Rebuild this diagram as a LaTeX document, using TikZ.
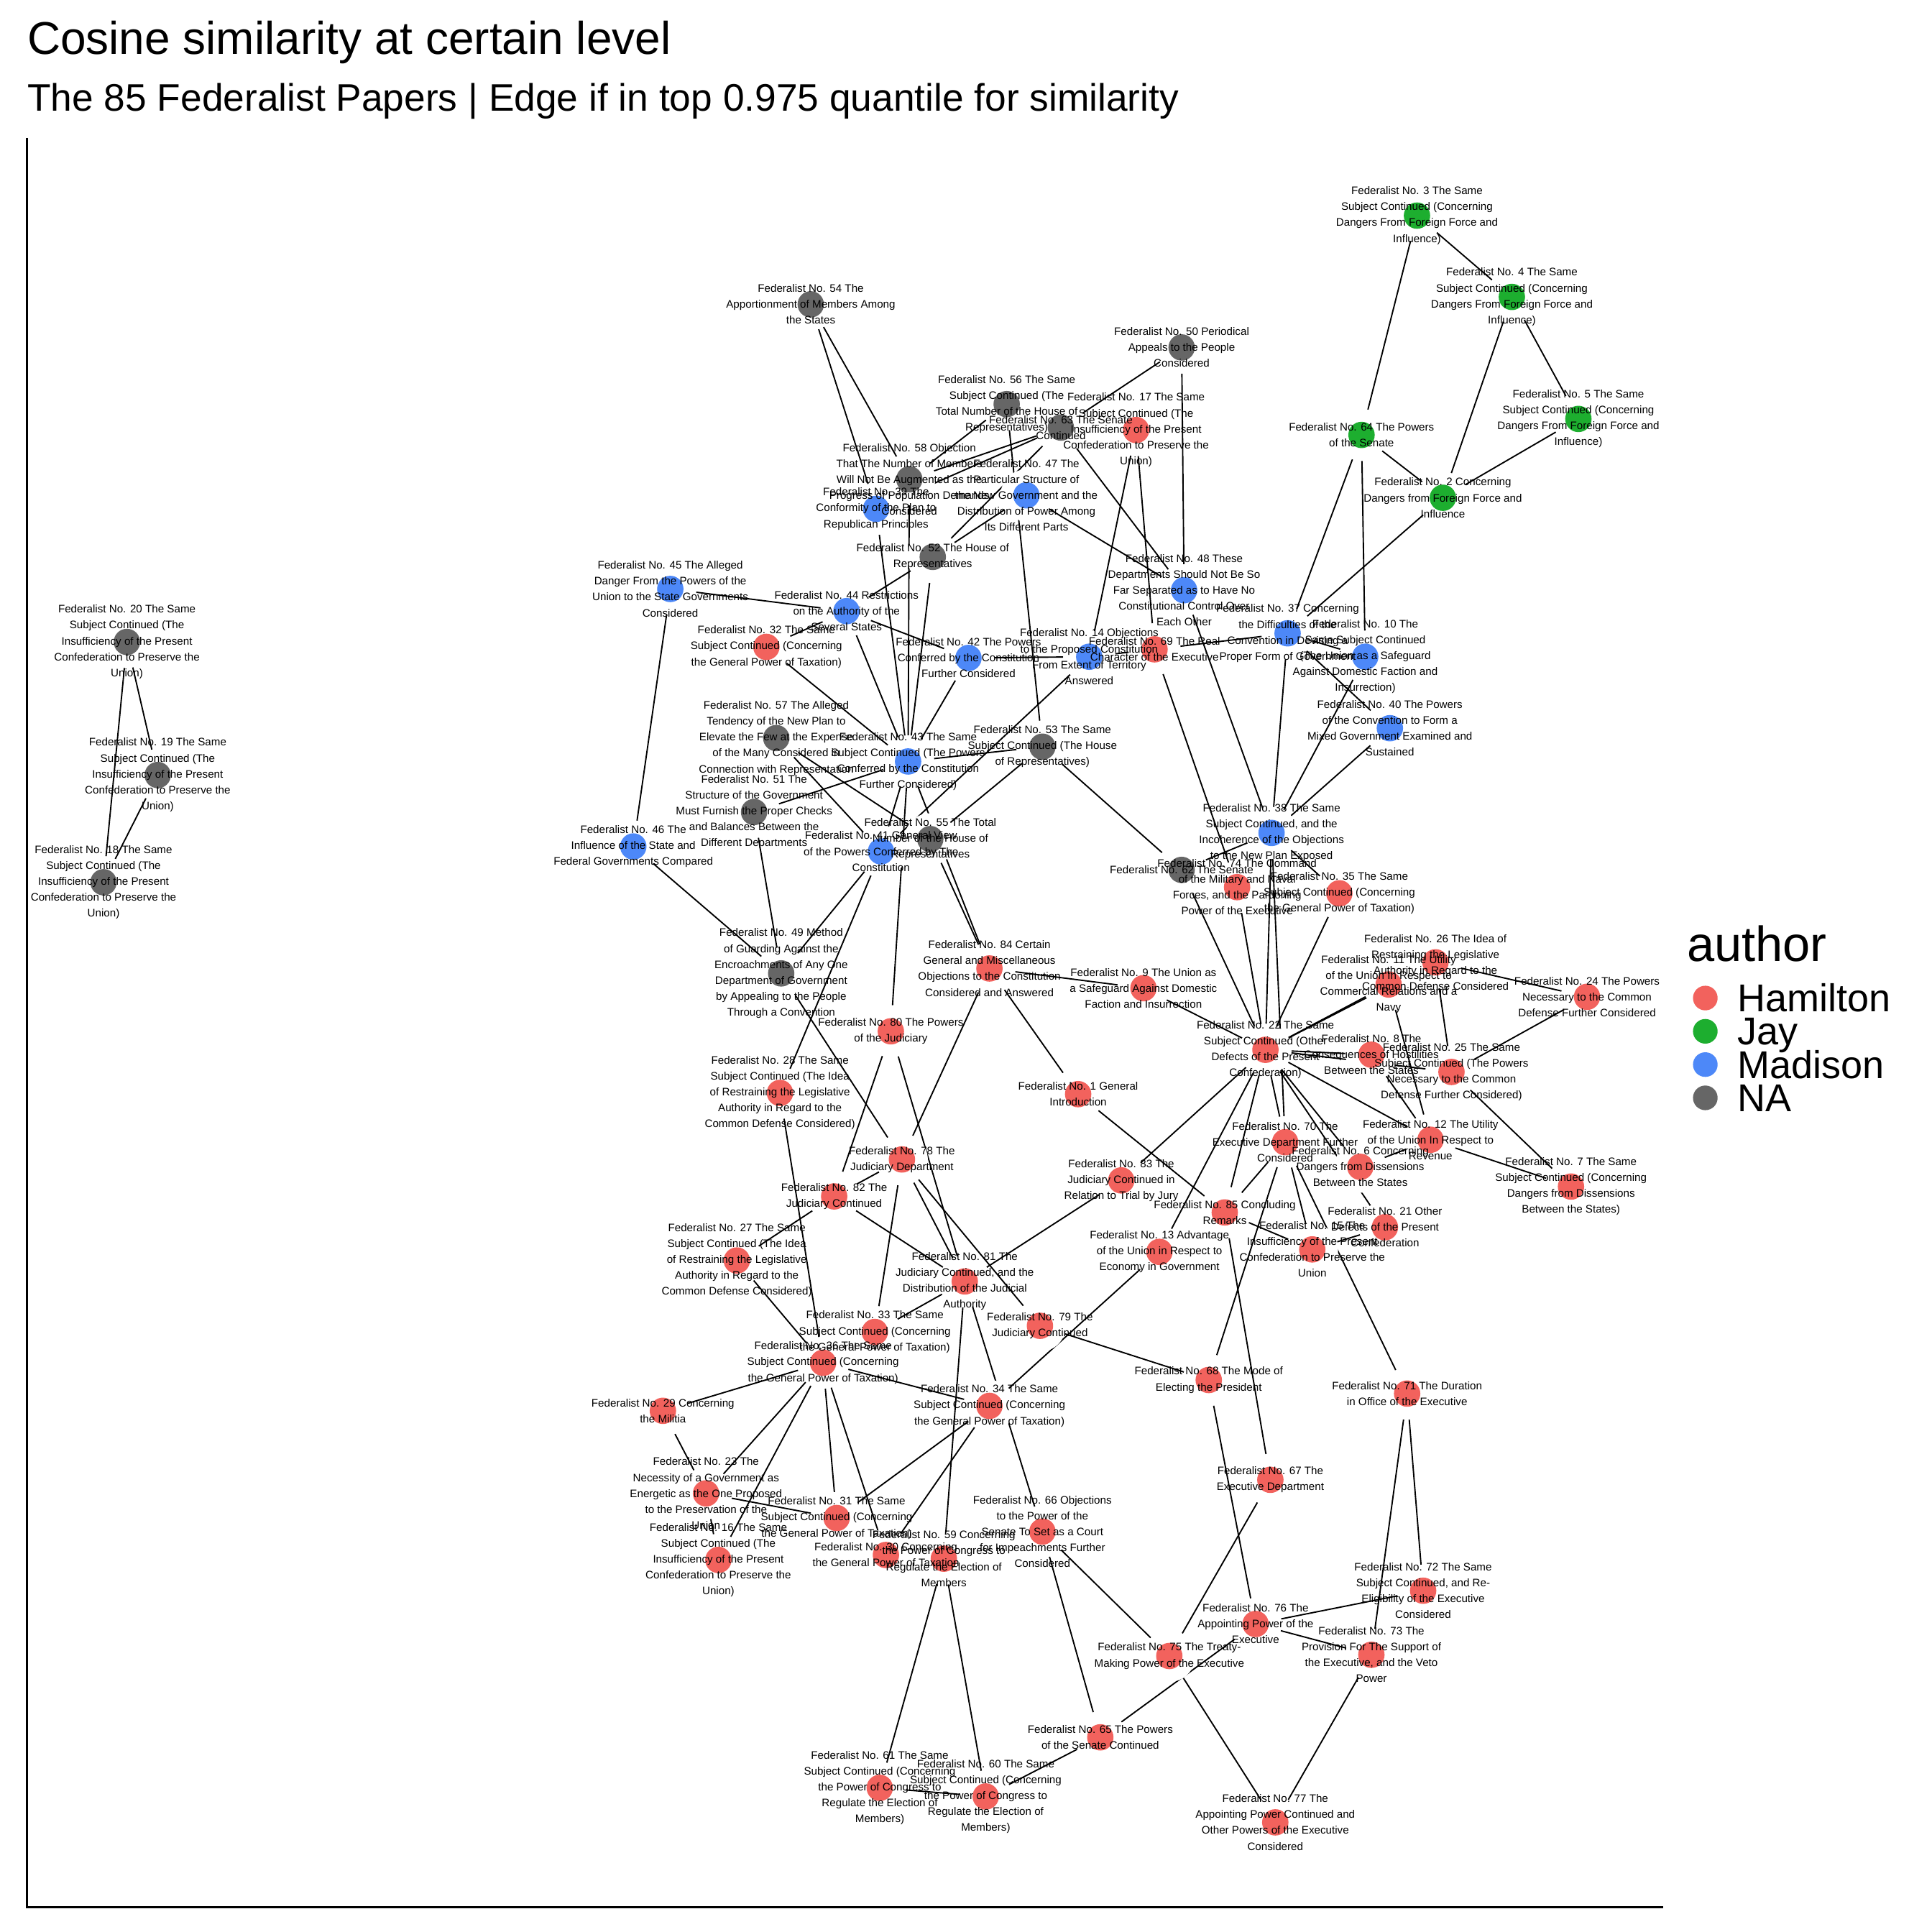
\documentclass[tikz,border=0pt]{standalone}
\usepackage{fontspec}
\setmainfont{Liberation Sans}
\pgfdeclarelayer{bg}
\pgfdeclarelayer{edges}
\pgfsetlayers{bg,edges,main}
\definecolor{ham}{HTML}{F2625D}
\definecolor{jay}{HTML}{1DAE2F}
\definecolor{mad}{HTML}{4D88F8}
\definecolor{na}{HTML}{666666}
\tikzset{
  halo/.style={circle, fill=white, inner sep=0pt, minimum size=42pt},
  lab/.style={font=\fontsize{8.85}{12.9}\selectfont, align=center, inner sep=0pt},
  edge/.style={line width=1.1pt, black},
  axisline/.style={line width=1.8pt, black},
}
\newcommand\paperlist{%
\pp{1}{875}{888}{ham}{Federalist No. 1 General\\Introduction}%
\pp{2}{1171}{404}{jay}{Federalist No. 2 Concerning\\Dangers from Foreign Force and\\Influence}%
\pp{3}{1150}{175}{jay}{Federalist No. 3 The Same\\Subject Continued (Concerning\\Dangers From Foreign Force and\\Influence)}%
\pp{4}{1227}{241}{jay}{Federalist No. 4 The Same\\Subject Continued (Concerning\\Dangers From Foreign Force and\\Influence)}%
\pp{5}{1281}{340}{jay}{Federalist No. 5 The Same\\Subject Continued (Concerning\\Dangers From Foreign Force and\\Influence)}%
\pp{6}{1104}{947}{ham}{Federalist No. 6 Concerning\\Dangers from Dissensions\\Between the States}%
\pp{7}{1275}{963}{ham}{Federalist No. 7 The Same\\Subject Continued (Concerning\\Dangers from Dissensions\\Between the States)}%
\pp{8}{1113}{856}{ham}{Federalist No. 8 The\\Consequences of Hostilities\\Between the States}%
\pp{9}{928}{802}{ham}{Federalist No. 9 The Union as\\a Safeguard Against Domestic\\Faction and Insurrection}%
\pp{10}{1108}{533}{mad}{Federalist No. 10 The\\Same Subject Continued\\(The Union as a Safeguard\\Against Domestic Faction and\\Insurrection)}%
\pp{11}{1127}{799}{ham}{Federalist No. 11 The Utility\\of the Union In Respect to\\Commercial Relations and a\\Navy}%
\pp{12}{1161}{925}{ham}{Federalist No. 12 The Utility\\of the Union In Respect to\\Revenue}%
\pp{13}{941}{1016}{ham}{Federalist No. 13 Advantage\\of the Union in Respect to\\Economy in Government}%
\pp{14}{884}{533}{mad}{Federalist No. 14 Objections\\to the Proposed Constitution\\From Extent of Territory\\Answered}%
\pp{15}{1065}{1014}{ham}{Federalist No. 15 The\\Insufficiency of the Present\\Confederation to Preserve the\\Union}%
\pp{16}{583}{1266}{ham}{Federalist No. 16 The Same\\Subject Continued (The\\Insufficiency of the Present\\Confederation to Preserve the\\Union)}%
\pp{17}{922}{349}{ham}{Federalist No. 17 The Same\\Subject Continued (The\\Insufficiency of the Present\\Confederation to Preserve the\\Union)}%
\pp{18}{84}{716}{na}{Federalist No. 18 The Same\\Subject Continued (The\\Insufficiency of the Present\\Confederation to Preserve the\\Union)}%
\pp{19}{128}{629}{na}{Federalist No. 19 The Same\\Subject Continued (The\\Insufficiency of the Present\\Confederation to Preserve the\\Union)}%
\pp{20}{103}{521}{na}{Federalist No. 20 The Same\\Subject Continued (The\\Insufficiency of the Present\\Confederation to Preserve the\\Union)}%
\pp{21}{1124}{996}{ham}{Federalist No. 21 Other\\Defects of the Present\\Confederation}%
\pp{22}{1027}{852}{ham}{Federalist No. 22 The Same\\Subject Continued (Other\\Defects of the Present\\Confederation)}%
\pp{23}{573}{1212}{ham}{Federalist No. 23 The\\Necessity of a Government as\\Energetic as the One Proposed\\to the Preservation of the\\Union}%
\pp{24}{1288}{809}{ham}{Federalist No. 24 The Powers\\Necessary to the Common\\Defense Further Considered}%
\pp{25}{1178}{870}{ham}{Federalist No. 25 The Same\\Subject Continued (The Powers\\Necessary to the Common\\Defense Further Considered)}%
\pp{26}{1165}{781}{ham}{Federalist No. 26 The Idea of\\Restraining the Legislative\\Authority in Regard to the\\Common Defense Considered}%
\pp{27}{598}{1023}{ham}{Federalist No. 27 The Same\\Subject Continued (The Idea\\of Restraining the Legislative\\Authority in Regard to the\\Common Defense Considered)}%
\pp{28}{633}{887}{ham}{Federalist No. 28 The Same\\Subject Continued (The Idea\\of Restraining the Legislative\\Authority in Regard to the\\Common Defense Considered)}%
\pp{29}{538}{1145}{ham}{Federalist No. 29 Concerning\\the Militia}%
\pp{30}{719}{1262}{ham}{Federalist No. 30 Concerning\\the General Power of Taxation}%
\pp{31}{679}{1232}{ham}{Federalist No. 31 The Same\\Subject Continued (Concerning\\the General Power of Taxation)}%
\pp{32}{622}{525}{ham}{Federalist No. 32 The Same\\Subject Continued (Concerning\\the General Power of Taxation)}%
\pp{33}{710}{1081}{ham}{Federalist No. 33 The Same\\Subject Continued (Concerning\\the General Power of Taxation)}%
\pp{34}{803}{1141}{ham}{Federalist No. 34 The Same\\Subject Continued (Concerning\\the General Power of Taxation)}%
\pp{35}{1087}{725}{ham}{Federalist No. 35 The Same\\Subject Continued (Concerning\\the General Power of Taxation)}%
\pp{36}{668}{1106}{ham}{Federalist No. 36 The Same\\Subject Continued (Concerning\\the General Power of Taxation)}%
\pp{37}{1045}{514}{mad}{Federalist No. 37 Concerning\\the Difficulties of the\\Convention in Devising a\\Proper Form of Government}%
\pp{38}{1032}{676}{mad}{Federalist No. 38 The Same\\Subject Continued, and the\\Incoherence of the Objections\\to the New Plan Exposed}%
\pp{39}{711}{413}{mad}{Federalist No. 39 The\\Conformity of the Plan to\\Republican Principles}%
\pp{40}{1128}{591}{mad}{Federalist No. 40 The Powers\\of the Convention to Form a\\Mixed Government Examined and\\Sustained}%
\pp{41}{715}{691}{mad}{Federalist No. 41 General View\\of the Powers Conferred by The\\Constitution}%
\pp{42}{786}{534}{mad}{Federalist No. 42 The Powers\\Conferred by the Constitution\\Further Considered}%
\pp{43}{737}{618}{mad}{Federalist No. 43 The Same\\Subject Continued (The Powers\\Conferred by the Constitution\\Further Considered)}%
\pp{44}{687}{496}{mad}{Federalist No. 44 Restrictions\\on the Authority of the\\Several States}%
\pp{45}{544}{478}{mad}{Federalist No. 45 The Alleged\\Danger From the Powers of the\\Union to the State Governments\\Considered}%
\pp{46}{514}{687}{mad}{Federalist No. 46 The\\Influence of the State and\\Federal Governments Compared}%
\pp{47}{833}{402}{mad}{Federalist No. 47 The\\Particular Structure of\\the New Government and the\\Distribution of Power Among\\Its Different Parts}%
\pp{48}{961}{479}{mad}{Federalist No. 48 These\\Departments Should Not Be So\\Far Separated as to Have No\\Constitutional Control Over\\Each Other}%
\pp{49}{634}{790}{na}{Federalist No. 49 Method\\of Guarding Against the\\Encroachments of Any One\\Department of Government\\by Appealing to the People\\Through a Convention}%
\pp{50}{959}{282}{na}{Federalist No. 50 Periodical\\Appeals to the People\\Considered}%
\pp{51}{612}{659}{na}{Federalist No. 51 The\\Structure of the Government\\Must Furnish the Proper Checks\\and Balances Between the\\Different Departments}%
\pp{52}{757}{452}{na}{Federalist No. 52 The House of\\Representatives}%
\pp{53}{846}{606}{na}{Federalist No. 53 The Same\\Subject Continued (The House\\of Representatives)}%
\pp{54}{658}{247}{na}{Federalist No. 54 The\\Apportionment of Members Among\\the States}%
\pp{55}{755}{681}{na}{Federalist No. 55 The Total\\Number of the House of\\Representatives}%
\pp{56}{817}{328}{na}{Federalist No. 56 The Same\\Subject Continued (The\\Total Number of the House of\\Representatives)}%
\pp{57}{630}{599}{na}{Federalist No. 57 The Alleged\\Tendency of the New Plan to\\Elevate the Few at the Expense\\of the Many Considered in\\Connection with Representation}%
\pp{58}{738}{389}{na}{Federalist No. 58 Objection\\That The Number of Members\\Will Not Be Augmented as the\\Progress of Population Demands\\Considered}%
\pp{59}{766}{1265}{ham}{Federalist No. 59 Concerning\\the Power of Congress to\\Regulate the Election of\\Members}%
\pp{60}{800}{1458}{ham}{Federalist No. 60 The Same\\Subject Continued (Concerning\\the Power of Congress to\\Regulate the Election of\\Members)}%
\pp{61}{714}{1451}{ham}{Federalist No. 61 The Same\\Subject Continued (Concerning\\the Power of Congress to\\Regulate the Election of\\Members)}%
\pp{62}{959}{706}{na}{Federalist No. 62 The Senate}%
\pp{63}{861}{347}{na}{Federalist No. 63 The Senate\\Continued}%
\pp{64}{1105}{353}{jay}{Federalist No. 64 The Powers\\of the Senate}%
\pp{65}{893}{1410}{ham}{Federalist No. 65 The Powers\\of the Senate Continued}%
\pp{66}{846}{1243}{ham}{Federalist No. 66 Objections\\to the Power of the\\Senate To Set as a Court\\for Impeachments Further\\Considered}%
\pp{67}{1031}{1201}{ham}{Federalist No. 67 The\\Executive Department}%
\pp{68}{981}{1120}{ham}{Federalist No. 68 The Mode of\\Electing the President}%
\pp{69}{937}{527}{ham}{Federalist No. 69 The Real\\Character of the Executive}%
\pp{70}{1043}{927}{ham}{Federalist No. 70 The\\Executive Department Further\\Considered}%
\pp{71}{1142}{1131}{ham}{Federalist No. 71 The Duration\\in Office of the Executive}%
\pp{72}{1155}{1291}{ham}{Federalist No. 72 The Same\\Subject Continued, and Re-\\Eligibility of the Executive\\Considered}%
\pp{73}{1113}{1343}{ham}{Federalist No. 73 The\\Provision For The Support of\\the Executive, and the Veto\\Power}%
\pp{74}{1004}{720}{ham}{Federalist No. 74 The Command\\of the Military and Naval\\Forces, and the Pardoning\\Power of the Executive}%
\pp{75}{949}{1344}{ham}{Federalist No. 75 The Treaty-\\Making Power of the Executive}%
\pp{76}{1019}{1318}{ham}{Federalist No. 76 The\\Appointing Power of the\\Executive}%
\pp{77}{1035}{1479}{ham}{Federalist No. 77 The\\Appointing Power Continued and\\Other Powers of the Executive\\Considered}%
\pp{78}{732}{941}{ham}{Federalist No. 78 The\\Judiciary Department}%
\pp{79}{844}{1076}{ham}{Federalist No. 79 The\\Judiciary Continued}%
\pp{80}{723}{837}{ham}{Federalist No. 80 The Powers\\of the Judiciary}%
\pp{81}{783}{1040}{ham}{Federalist No. 81 The\\Judiciary Continued, and the\\Distribution of the Judicial\\Authority}%
\pp{82}{677}{971}{ham}{Federalist No. 82 The\\Judiciary Continued}%
\pp{83}{910}{958}{ham}{Federalist No. 83 The\\Judiciary Continued in\\Relation to Trial by Jury}%
\pp{84}{803}{786}{ham}{Federalist No. 84 Certain\\General and Miscellaneous\\Objections to the Constitution\\Considered and Answered}%
\pp{85}{994}{984}{ham}{Federalist No. 85 Concluding\\Remarks}%
}
\begin{document}
\begin{tikzpicture}[x=1pt,y=-1pt]
\useasboundingbox (0,0) rectangle (1568,1568);
\begin{pgfonlayer}{bg}
\fill[white] (0,0) rectangle (1568,1568);
\end{pgfonlayer}
% title
\node[anchor=base west, inner sep=0pt, font=\fontsize{37.3}{44}\selectfont] (title) at (22,44) {Cosine similarity at certain level};
\node[anchor=base west, inner sep=0pt, font=\fontsize{31.1}{37}\selectfont] (subtitle) at (22,90) {The 85 Federalist Papers | Edge if in top 0.975 quantile for similarity};
% axes
\coordinate (axtop) at (22,112);
\coordinate (axorig) at (22,1548);
\coordinate (axright) at (1350,1548);
\draw[axisline] (axtop) -- (axorig) -- (axright);
% nodes: halos, dots, labels
\def\pp#1#2#3#4#5{\node[halo] (n#1) at (#2,#3) {};}
\paperlist
\def\pp#1#2#3#4#5{\fill[#4] (n#1.center) circle[radius=10.7];}
\paperlist
\def\pp#1#2#3#4#5{\node[lab] (t#1) at (n#1.center) {#5};}
\paperlist
% edges
\begin{pgfonlayer}{edges}
\foreach \a/\b in {3/4,3/64,4/2,4/5,5/2,64/2,64/37,64/10,2/37,
 54/39,54/58,58/56,58/63,58/43,39/63,39/43,50/63,50/48,63/48,63/52,56/53,47/52,47/48,17/14,17/69,52/44,52/43,
 45/44,45/46,46/49,44/32,44/42,44/43,32/43,42/43,42/14,57/41,57/55,51/43,51/49,49/41,49/78,43/41,43/80,43/84,55/84,53/43,53/55,53/62,14/41,14/69,69/37,69/74,48/38,
 37/38,37/40,10/37,10/38,40/38,62/38,38/35,38/22,38/70,35/22,62/22,74/22,26/24,84/9,84/78,84/1,9/22,1/85,83/22,22/13,22/85,22/70,22/11,22/26,22/8,22/25,22/12,22/6,22/21,70/85,70/68,70/15,70/71,85/15,85/67,81/83,13/34,79/68,8/12,11/12,26/25,25/24,25/7,12/7,6/12,21/15,
 41/28,80/82,80/81,78/82,78/33,78/81,78/79,82/27,82/81,28/36,27/36,81/33,36/29,36/34,36/23,36/16,36/31,36/30,29/23,23/31,23/16,31/34,30/34,59/81,59/61,61/60,59/60,81/66,66/75,66/65,60/65,65/76,75/77,75/67,68/76,76/72,76/73,71/73,71/72,73/77,
 20/19,20/18,19/18}
 \draw[edge] (n\a) -- (n\b);
\end{pgfonlayer}
% legend
\node[anchor=base west, inner sep=0pt, font=\fontsize{40}{46}\selectfont] (legtitle) at (1369,780) {author};
\foreach \c/\t/\y [count=\i] in {ham/Hamilton/810,jay/Jay/837,mad/Madison/864,na/NA/891}{
  \fill[\c] (1384,\y) circle[radius=10];
  \node[anchor=base west, inner sep=0pt, font=\fontsize{31.5}{36}\selectfont] (leg\i) at (1410,\y+11) {\t};
}
\end{tikzpicture}
\end{document}
